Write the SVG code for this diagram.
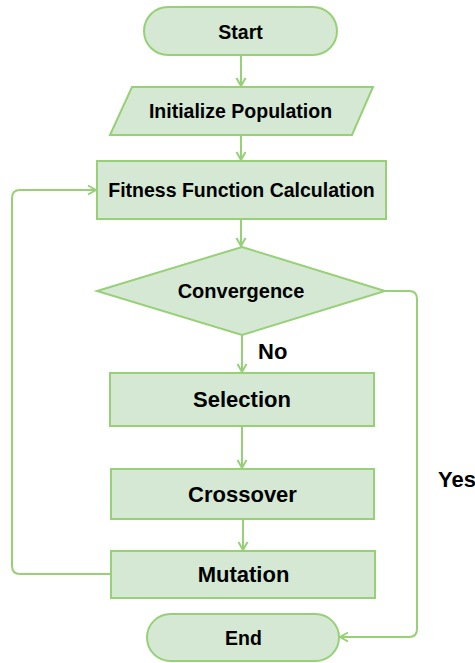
<svg xmlns="http://www.w3.org/2000/svg" width="475" height="663" viewBox="0 0 475 663">
<style>
.n{fill:#d5e8d4;stroke:#97d077;stroke-width:2}
.e{fill:none;stroke:#97d077;stroke-width:2}
text{font-family:"Liberation Sans",Arial,sans-serif;font-weight:bold;fill:#000}
.c{text-anchor:middle}
</style>
<defs>
<marker id="a" markerUnits="userSpaceOnUse" markerWidth="12" markerHeight="12" viewBox="0 0 12 12" refX="10" refY="6" orient="auto">
<path d="M2,1.5 L10,6 L2,10.5" fill="none" stroke="#97d077" stroke-width="2"/>
</marker>
</defs>
<rect width="475" height="663" fill="#fff"/>
<g id="connectors">
<path class="e" d="M241,55 V86" marker-end="url(#a)"/>
<path class="e" d="M241,135 V160" marker-end="url(#a)"/>
<path class="e" d="M241,219 V246" marker-end="url(#a)"/>
<path class="e" d="M242,335 V372" marker-end="url(#a)"/>
<path class="e" d="M242,426 V468" marker-end="url(#a)"/>
<path class="e" d="M243,519 V550" marker-end="url(#a)"/>
<path class="e" d="M111,574 H20 Q12,574 12,566 V198 Q12,190 20,190 H96" marker-end="url(#a)"/>
<path class="e" d="M385,291 H409 Q417,291 417,299 V629 Q417,637 409,637 H340" marker-end="url(#a)"/>
</g>
<g id="start"><rect class="n" x="144" y="7" width="193" height="48" rx="24"/><text class="c" x="240.5" y="39" font-size="19.5">Start</text></g>
<g id="init"><polygon class="n" points="132,87 373,87 352,135 110,135"/><text class="c" x="240.5" y="118" font-size="19.5">Initialize Population</text></g>
<g id="fitness"><rect class="n" x="97" y="161" width="289" height="58"/><text class="c" x="241.5" y="197" font-size="19.5">Fitness Function Calculation</text></g>
<g id="convergence"><polygon class="n" points="242,247 385,291 242,335 97,291"/><text class="c" x="241" y="298" font-size="20">Convergence</text></g>
<g id="selection"><rect class="n" x="110" y="373" width="264" height="53"/><text class="c" x="242" y="407" font-size="22">Selection</text></g>
<g id="crossover"><rect class="n" x="111" y="469" width="263" height="50"/><text class="c" x="242.5" y="501.5" font-size="22">Crossover</text></g>
<g id="mutation"><rect class="n" x="111" y="551" width="264" height="47"/><text class="c" x="243.5" y="582" font-size="22">Mutation</text></g>
<g id="end"><rect class="n" x="147" y="614" width="192" height="47" rx="23.5"/><text class="c" x="243.5" y="645" font-size="19.5">End</text></g>
<g id="labels">
<text x="258" y="358.5" font-size="22">No</text>
<text x="438" y="487" font-size="22">Yes</text>
</g>
</svg>
